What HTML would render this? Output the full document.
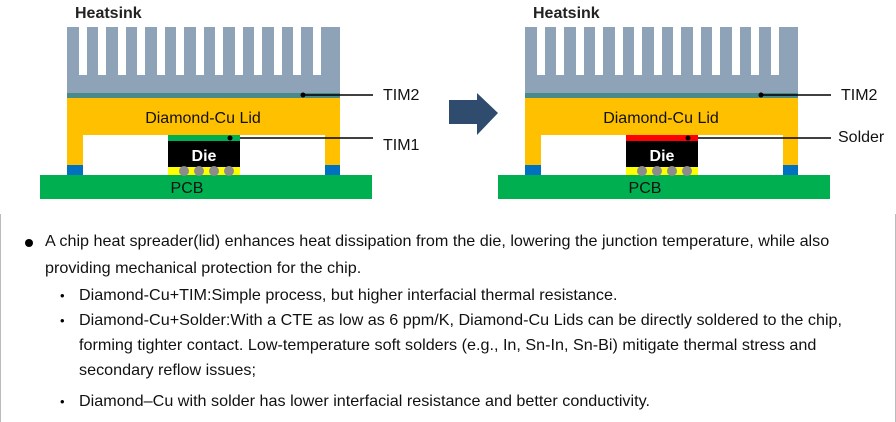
<!DOCTYPE html>
<html><head><meta charset="utf-8"><style>
body{margin:0;width:896px;height:422px;background:#fff;overflow:hidden;position:relative;font-family:"Liberation Sans",sans-serif}
.t{position:absolute;white-space:nowrap;font-size:16px;color:#111;transform-origin:0 50%;transform:scaleX(1.01)}
.b{position:absolute;font-size:13px}
</style></head><body>
<svg width="896" height="422" style="position:absolute;left:0;top:0" font-family="Liberation Sans, sans-serif">
<defs>
<g id="d">
<rect x="67" y="27" width="273" height="66" fill="#8ea3b8"/>
<g fill="#fff">
<rect x="79" y="27" width="8" height="48"/><rect x="98" y="27" width="8" height="48"/><rect x="118" y="27" width="8" height="48"/><rect x="137" y="27" width="8" height="48"/><rect x="157" y="27" width="8" height="48"/><rect x="176" y="27" width="8" height="48"/><rect x="196" y="27" width="8" height="48"/><rect x="215" y="27" width="8" height="48"/><rect x="235" y="27" width="8" height="48"/><rect x="254" y="27" width="8" height="48"/><rect x="274" y="27" width="8" height="48"/><rect x="293" y="27" width="8" height="48"/><rect x="313" y="27" width="8" height="48"/>
</g>
<rect x="67" y="93" width="273" height="5" fill="#4a8a8a"/>
<rect x="67" y="98" width="273" height="37" fill="#ffc000"/>
<rect x="67" y="135" width="16" height="30" fill="#ffc000"/>
<rect x="325" y="135" width="15" height="30" fill="#ffc000"/>
<rect x="67" y="165" width="16" height="10" fill="#0070c0"/>
<rect x="325" y="165" width="15" height="10" fill="#0070c0"/>
<rect x="40" y="175" width="332" height="24" fill="#00b050"/>
<rect x="168" y="141" width="72" height="26" fill="#000"/>
<rect x="168" y="167" width="72" height="8" fill="#ffff00"/>
<g fill="#8c8c8c"><circle cx="184" cy="171" r="5"/><circle cx="199" cy="171" r="5"/><circle cx="214" cy="171" r="5"/><circle cx="229" cy="171" r="5"/></g>
<text x="75" y="18" font-size="16" font-weight="bold" fill="#222">Heatsink</text>
<text x="203" y="123" font-size="16" text-anchor="middle" fill="#111">Diamond-Cu Lid</text>
<text x="204" y="161" font-size="16" font-weight="bold" text-anchor="middle" fill="#fff">Die</text>
<text x="187" y="193" font-size="16" text-anchor="middle" fill="#111">PCB</text>
<circle cx="303" cy="95" r="2.5" fill="#000"/><line x1="303" y1="95" x2="373" y2="95" stroke="#000" stroke-width="1.5"/>
<circle cx="230" cy="138" r="2.5" fill="#000"/><line x1="230" y1="138" x2="373" y2="138" stroke="#000" stroke-width="1.5"/>
<text x="383" y="100" font-size="16" fill="#111">TIM2</text>
</g>
</defs>
<use href="#d"/>
<rect x="168" y="135" width="72" height="6" fill="#00b050"/>
<circle cx="230" cy="138" r="2.5" fill="#000"/>
<text x="383" y="150" font-size="16" fill="#111">TIM1</text>
<g transform="translate(458,0)"><use href="#d"/>
<rect x="168" y="135" width="72" height="6" fill="#ff0000"/>
<circle cx="230" cy="138" r="2.5" fill="#000"/>
<text x="380" y="142" font-size="16" fill="#111">Solder</text>
</g>
<polygon points="449,100 477,100 477,93 498,113 477,135 477,124 449,124" fill="#2f4b6e"/>
<line x1="0.5" y1="214" x2="0.5" y2="422" stroke="#bbb"/>
<line x1="895.5" y1="214" x2="895.5" y2="422" stroke="#bbb"/>
<circle cx="29" cy="243" r="4" fill="#000"/>
</svg>
<div class="t" style="left:45px;top:233px">A chip heat spreader(lid) enhances heat dissipation from the die, lowering the junction temperature, while also</div>
<div class="t" style="left:45px;top:260px">providing mechanical protection for the chip.</div>
<div class="b" style="left:60px;top:288px">•</div>
<div class="t" style="left:79px;top:287px">Diamond-Cu+TIM:Simple process, but higher interfacial thermal resistance.</div>
<div class="b" style="left:60px;top:313px">•</div>
<div class="t" style="left:79px;top:312px">Diamond-Cu+Solder:With a CTE as low as 6 ppm/K, Diamond-Cu Lids can be directly soldered to the chip,</div>
<div class="t" style="left:79px;top:337px">forming tighter contact. Low-temperature soft solders (e.g., In, Sn-In, Sn-Bi) mitigate thermal stress and</div>
<div class="t" style="left:79px;top:362px">secondary reflow issues;</div>
<div class="b" style="left:60px;top:394px">•</div>
<div class="t" style="left:79px;top:393px">Diamond–Cu with solder has lower interfacial resistance and better conductivity.</div>
</body></html>
